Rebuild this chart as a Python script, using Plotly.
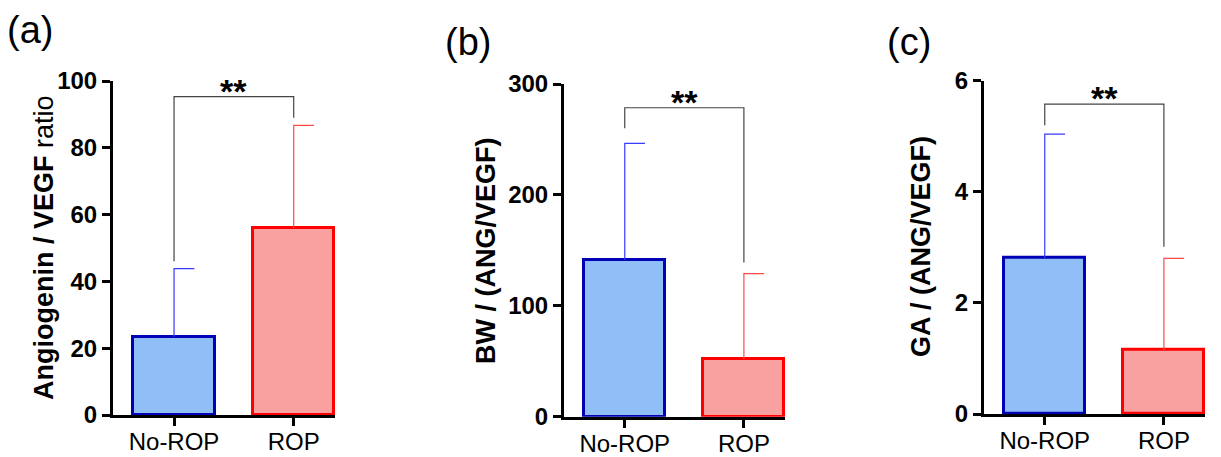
import plotly.graph_objects as go

categories = ["No-ROP", "ROP"]

# Panel (a): Angiogenin / VEGF ratio
a_mean = [23.4, 56.0]
a_sd = [20.4, 30.7]
a_bracket = [46, 95.3, 89]

# Panel (b): BW / (ANG/VEGF)
b_mean = [141.5, 52.0]
b_sd = [105.0, 77.0]
b_bracket = [260, 278.6, 139]

# Panel (c): GA / (ANG/VEGF)
c_mean = [2.81, 1.15]
c_sd = [2.23, 1.65]
c_bracket = [5.2, 5.58, 3.01]

OFF = 8  # page body margin
W, H = 1221 - OFF, 457 - OFF


def px(x):
    return (x - OFF) / W


def py(y):
    return 1 - (y - OFF) / H


panels = [
    dict(mean=a_mean, sd=a_sd, br=a_bracket, yr=[0, 100], tickvals=[0, 20, 40, 60, 80, 100],
         title="<b>Angiogenin / VEGF</b> ratio", label="(a)",
         xd=(113, 335), yd=(415, 81), lab_xy=(30, 30), tit_xy=(44, 248)),
    dict(mean=b_mean, sd=b_sd, br=b_bracket, yr=[0, 300], tickvals=[0, 100, 200, 300],
         title="<b>BW / (ANG/VEGF)</b>", label="(b)",
         xd=(564, 785), yd=(416.7, 84), lab_xy=(468, 42), tit_xy=(486, 251)),
    dict(mean=c_mean, sd=c_sd, br=c_bracket, yr=[0, 6], tickvals=[0, 2, 4, 6],
         title="<b>GA / (ANG/VEGF)</b>", label="(c)",
         xd=(984, 1205), yd=(414, 80.7), lab_xy=(909, 42), tit_xy=(921, 247)),
]

fills = ["#90bff7", "#f9a0a0"]
outlines = ["#0000b4", "#ff0000"]
errcols = ["#3a3aff", "#ff4a4a"]
FONT = "Liberation Sans, Arial, sans-serif"

fig = go.Figure()
for i, p in enumerate(panels):
    xa = "x" if i == 0 else f"x{i+1}"
    ya = "y" if i == 0 else f"y{i+1}"
    for j in range(2):
        top = p["mean"][j] + p["sd"][j]
        fig.add_trace(go.Scatter(x=[j, j, j + 0.17], y=[p["mean"][j], top, top], mode="lines",
                                 line=dict(color=errcols[j], width=1.2), xaxis=xa, yaxis=ya,
                                 showlegend=False, hoverinfo="skip"))
    fig.add_trace(go.Bar(x=[0, 1], y=p["mean"], width=0.68,
                         marker=dict(color=fills, line=dict(color=outlines, width=3)),
                         xaxis=xa, yaxis=ya, showlegend=False))
    l, b, r = p["br"]
    fig.add_trace(go.Scatter(x=[0, 0, 1, 1], y=[l, b, b, r], mode="lines",
                             line=dict(color="#444444", width=1.2), xaxis=xa, yaxis=ya,
                             showlegend=False, hoverinfo="skip"))
    fig.add_annotation(x=0.5, y=b, xref=xa, yref=ya, text="<b>**</b>", showarrow=False,
                       yanchor="bottom", yshift=-15, font=dict(size=34, color="black", family=FONT))
    fig.add_annotation(x=px(p["lab_xy"][0]), y=py(p["lab_xy"][1]), xref="paper", yref="paper",
                       text=p["label"], showarrow=False, xanchor="center", yanchor="middle",
                       font=dict(size=38, color="black", family=FONT))
    fig.add_annotation(x=px(p["tit_xy"][0]), y=py(p["tit_xy"][1]), xref="paper", yref="paper",
                       text=p["title"], showarrow=False, xanchor="center", yanchor="middle",
                       textangle=-90, font=dict(size=27, color="black", family=FONT))
    fig.layout[("xaxis" if i == 0 else f"xaxis{i+1}")] = dict(
        domain=[px(p["xd"][0]), px(p["xd"][1])], anchor=ya, range=[-0.51, 1.345],
        tickvals=[0, 1], ticktext=categories, ticklabelstandoff=-5,
        showline=True, linecolor="black", linewidth=3, ticks="outside", ticklen=8, tickwidth=3,
        tickcolor="black", showgrid=False, zeroline=False, automargin=False,
        tickfont=dict(size=24, color="black", family=FONT))
    fig.layout[("yaxis" if i == 0 else f"yaxis{i+1}")] = dict(
        domain=[py(p["yd"][0]), py(p["yd"][1])], anchor=xa, range=p["yr"], tickvals=p["tickvals"],
        ticktext=[f"<b>{v}</b>" for v in p["tickvals"]],
        showline=True, linecolor="black", linewidth=3, ticks="outside", ticklen=8, tickwidth=3,
        tickcolor="black", showgrid=False, zeroline=False, automargin=False,
        tickfont=dict(size=24, color="black", family=FONT))

fig.update_layout(width=W, height=H, margin=dict(l=0, r=0, t=0, b=0, autoexpand=False),
                  plot_bgcolor="white", paper_bgcolor="white", bargap=0, autosize=False,
                  font=dict(family=FONT, color="black"))
fig.write_html("out.html")
